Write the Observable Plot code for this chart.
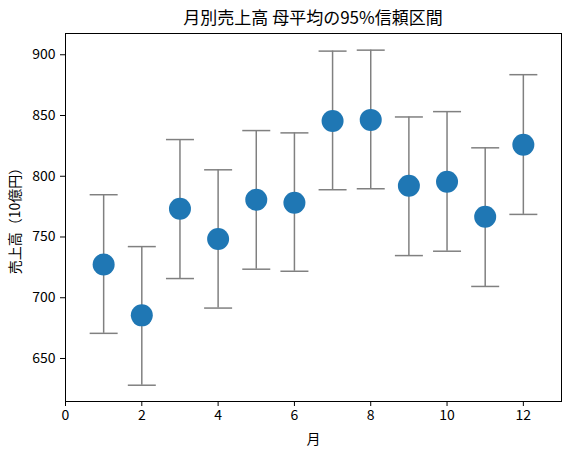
<!DOCTYPE html>
<html>
<head>
<meta charset="utf-8">
<script src="https://cdn.jsdelivr.net/npm/d3@7"></script>
<script src="https://cdn.jsdelivr.net/npm/@observablehq/plot@0.6"></script>
<style>
  html, body { margin: 0; padding: 0; background: #fff; }
  #title { width: 571px; height: 24px; box-sizing: border-box; padding-left: 55px; text-align: center;
           font-family: "Noto Sans CJK JP", sans-serif; font-size: 17px; line-height: 34px; color: #000; }
</style>
</head>
<body>
<div id="title">月別売上高 母平均の95%信頼区間</div>
<div id="chart"></div>
<script>
const months = [1, 2, 3, 4, 5, 6, 7, 8, 9, 10, 11, 12];
const means  = [727.3, 685.5, 773.3, 748.4, 780.7, 778.2, 845.5, 846.4, 792.2, 795.5, 766.7, 825.9];
const lower  = [670.7, 628.0, 715.8, 691.5, 723.5, 721.8, 788.9, 789.7, 734.7, 738.3, 709.3, 768.6];
const upper  = [784.8, 742.1, 830.2, 805.3, 837.6, 835.7, 903.0, 903.8, 848.8, 853.2, 823.4, 883.6];
const xTicks = [0, 2, 4, 6, 8, 10, 12];
const yTicks = [650, 700, 750, 800, 850, 900];

const data = months.map((m, i) => ({month: m, mean: means[i], lo: lower[i], hi: upper[i]}));

const capSymbol = {
  draw(context) {
    context.moveTo(-14, 0);
    context.lineTo(14, 0);
  }
};

const plot = Plot.plot({
  width: 571,
  height: 431,
  marginTop: 9,
  marginBottom: 54,
  marginLeft: 65,
  marginRight: 10,
  style: {fontFamily: "Noto Sans CJK JP, sans-serif", fontSize: "14px", color: "#000", background: "#fff"},
  x: {domain: [0, 13]},
  y: {domain: [614.6, 917.5]},
  marks: [
    Plot.frame({stroke: "#000", strokeWidth: 1}),
    Plot.axisX({ticks: xTicks, tickSize: 5, tickPadding: 4, label: "月", labelAnchor: "center", labelArrow: "none", labelOffset: 42, fontSize: 14}),
    Plot.axisY({ticks: yTicks, tickSize: 5, tickPadding: 5, label: "売上高（10億円）", labelAnchor: "center", labelArrow: "none", labelOffset: 55, fontSize: 14}),
    Plot.ruleX(data, {x: "month", y1: "lo", y2: "hi", stroke: "#808080", strokeWidth: 1.5}),
    Plot.dot(data, {x: "month", y: "lo", symbol: capSymbol, stroke: "#808080", strokeWidth: 1.5, r: 5}),
    Plot.dot(data, {x: "month", y: "hi", symbol: capSymbol, stroke: "#808080", strokeWidth: 1.5, r: 5}),
    Plot.dot(data, {x: "month", y: "mean", r: 11, fill: "#1f77b4", stroke: "none"})
  ]
});
document.getElementById("chart").appendChild(plot);
</script>
</body>
</html>
